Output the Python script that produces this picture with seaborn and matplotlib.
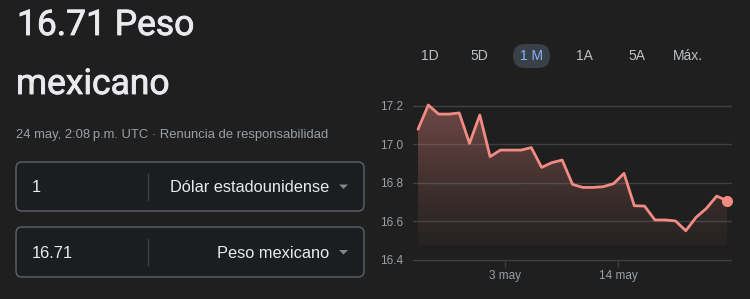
import numpy as np
import pandas as pd
import matplotlib
matplotlib.use("Agg")
import matplotlib.pyplot as plt
import matplotlib.dates as mdates
import matplotlib.transforms as mtransforms
import matplotlib.patheffects as pe
from matplotlib.patches import FancyBboxPatch, Polygon
import seaborn as sns

# ---------------- data ----------------
dates = pd.date_range("2024-04-24 14:08", "2024-05-24 14:08", freq="D")
rates = [17.079, 17.205, 17.158, 17.158, 17.164, 17.006, 17.153, 16.937,
         16.971, 16.971, 16.971, 16.984, 16.881, 16.906, 16.919, 16.793,
         16.777, 16.777, 16.781, 16.797, 16.850, 16.682, 16.680, 16.608,
         16.608, 16.603, 16.552, 16.622, 16.668, 16.732, 16.708]
y_ticks = [16.4, 16.6, 16.8, 17.0, 17.2]
x_tick_dates = [pd.Timestamp("2024-05-03"), pd.Timestamp("2024-05-14")]
x_tick_labels = ["3 may", "14 may"]
periods = ["1D", "5D", "1 M", "1A", "5A", "Máx."]
selected_period = "1 M"
title_line1 = "16.71 Peso"
title_line2 = "mexicano"
subtitle = "24 may, 2:08\u2009p.m. UTC · Renuncia de responsabilidad"
from_amount, from_currency = "1", "Dólar estadounidense"
to_amount, to_currency = "16.71", "Peso mexicano"

df = pd.DataFrame({"date": dates, "rate": rates})

# ---------------- style ----------------
BG = "#1f1f1f"
LINE = "#f28b82"
GRID = "#3c4043"
TXT = "#e8eaed"
SUB = "#9aa0a6"

sns.set_theme(style="dark", rc={"axes.facecolor": BG, "figure.facecolor": BG})
plt.rcParams["font.family"] = ["Liberation Sans", "DejaVu Sans"]

W, H = 750, 299
fig = plt.figure(figsize=(W / 100, H / 100), dpi=100)
fig.patch.set_facecolor(BG)

# overlay axes in pixel coordinates
ov = fig.add_axes([0, 0, 1, 1], zorder=0)
ov.set_xlim(0, W)
ov.set_ylim(H, 0)
ov.axis("off")
ov.set_facecolor(BG)

thick = [pe.withStroke(linewidth=0.6, foreground=TXT)]
ov.text(17, 35, title_line1, fontsize=25.5, color=TXT, family=["Roboto"],
        va="baseline", ha="left", path_effects=thick)
ov.text(16, 94, title_line2, fontsize=25.5, color=TXT, family=["Roboto"],
        va="baseline", ha="left", path_effects=thick)
ov.text(16, 138, subtitle, fontsize=9.4, color=SUB, va="baseline", ha="left")

for (y0, y1, amt, cur) in [(162, 211, from_amount, from_currency), (227, 277, to_amount, to_currency)]:
    box = FancyBboxPatch((16, y0), 348, y1 - y0, boxstyle="round,pad=0,rounding_size=6",
                         linewidth=1.0, edgecolor="#5f6368", facecolor="#1c1d20")
    ov.add_patch(box)
    cy = (y0 + y1) / 2
    ov.plot([148, 148], [cy - 13, cy + 13], color=GRID, lw=1)
    ov.text(32, cy + 6, amt, fontsize=11.8, color=TXT, va="baseline", ha="left")
    ov.text(329, cy + 6, cur, fontsize=11.8, color=TXT, va="baseline", ha="right")
    tri = Polygon([[339, cy - 2], [348, cy - 2], [343.5, cy + 2.5]], closed=True,
                  facecolor="#80868b", edgecolor="none")
    ov.add_patch(tri)

period_x = [430, 479, 532, 584, 637, 688]
for px_, lab in zip(period_x, periods):
    if lab == selected_period:
        pill = FancyBboxPatch((513, 44), 37, 24, boxstyle="round,pad=0,rounding_size=12",
                              linewidth=0, facecolor="#394048")
        ov.add_patch(pill)
        ov.text(px_, 56, lab, fontsize=10, color="#8ab4f8", va="center", ha="center")
    else:
        ov.text(px_, 56, lab, fontsize=10, color="#bdc1c6", va="center", ha="center")

# ---------------- chart axes ----------------
ylo, yhi = 16.38, 17.22
ppu = 154 / 0.8
top_px = 106 - (yhi - 17.2) * ppu
bot_px = 260 + (16.4 - ylo) * ppu
left_px, right_px = 413, 732
ax = fig.add_axes([left_px / W, 1 - bot_px / H, (right_px - left_px) / W, (bot_px - top_px) / H], zorder=1)
ax.patch.set_alpha(0)

d0 = mdates.date2num(dates[0])
d1 = mdates.date2num(dates[-1])
pad = 5 / 10.3

for yt in y_ticks:
    ax.axhline(yt, color=GRID, lw=1.0, zorder=0)

# gradient fill under the curve
fill_base = 16.478
poly = ax.fill_between(df["date"], df["rate"], fill_base, color="none", lw=0)
rgb = matplotlib.colors.to_rgb(LINE)
grad = np.linspace(0, 1, 256)
img = np.zeros((256, 1, 4))
img[:, 0, 0], img[:, 0, 1], img[:, 0, 2] = rgb
img[:, 0, 3] = 0.04 + 0.34 * grad ** 1.2
im = ax.imshow(img, extent=[d0, d1, fill_base, max(rates)], origin="lower",
               aspect="auto", zorder=1, interpolation="bilinear")
im.set_clip_path(poly.get_paths()[0], transform=ax.transData)

sns.lineplot(data=df, x="date", y="rate", ax=ax, color=LINE, lw=2.0, zorder=3)
ax.plot([df["date"].iloc[-1]], [df["rate"].iloc[-1]], "o", color=LINE, ms=8, zorder=4,
        markeredgewidth=0)

ax.set_xlim(d0 - pad, d1 + pad)
ax.set_ylim(ylo, yhi)
ax.set_yticks(y_ticks)
ax.set_yticklabels([f"{v:.1f}" for v in y_ticks])
ax.set_xticks(x_tick_dates)
ax.set_xticklabels(x_tick_labels)
ax.tick_params(axis="y", length=0, pad=7, labelsize=8.5, labelcolor=SUB)
ax.tick_params(axis="x", length=5, width=1, color=GRID, pad=2.5, labelsize=8.5, labelcolor=SUB,
               bottom=True, direction="out")
ax.set_xlabel("")
ax.set_ylabel("")
for s in ax.spines.values():
    s.set_visible(False)
ax.grid(False)

# x tick marks start at the 16.4 line
offset = mtransforms.ScaledTranslation(0, (16.4 - ylo) * ppu / 100, fig.dpi_scale_trans)
for t in ax.xaxis.get_major_ticks():
    t.tick1line.set_transform(t.tick1line.get_transform() + offset)
    t.label1.set_transform(t.label1.get_transform() + offset)

fig.savefig("out.png", dpi=100, facecolor=BG)
